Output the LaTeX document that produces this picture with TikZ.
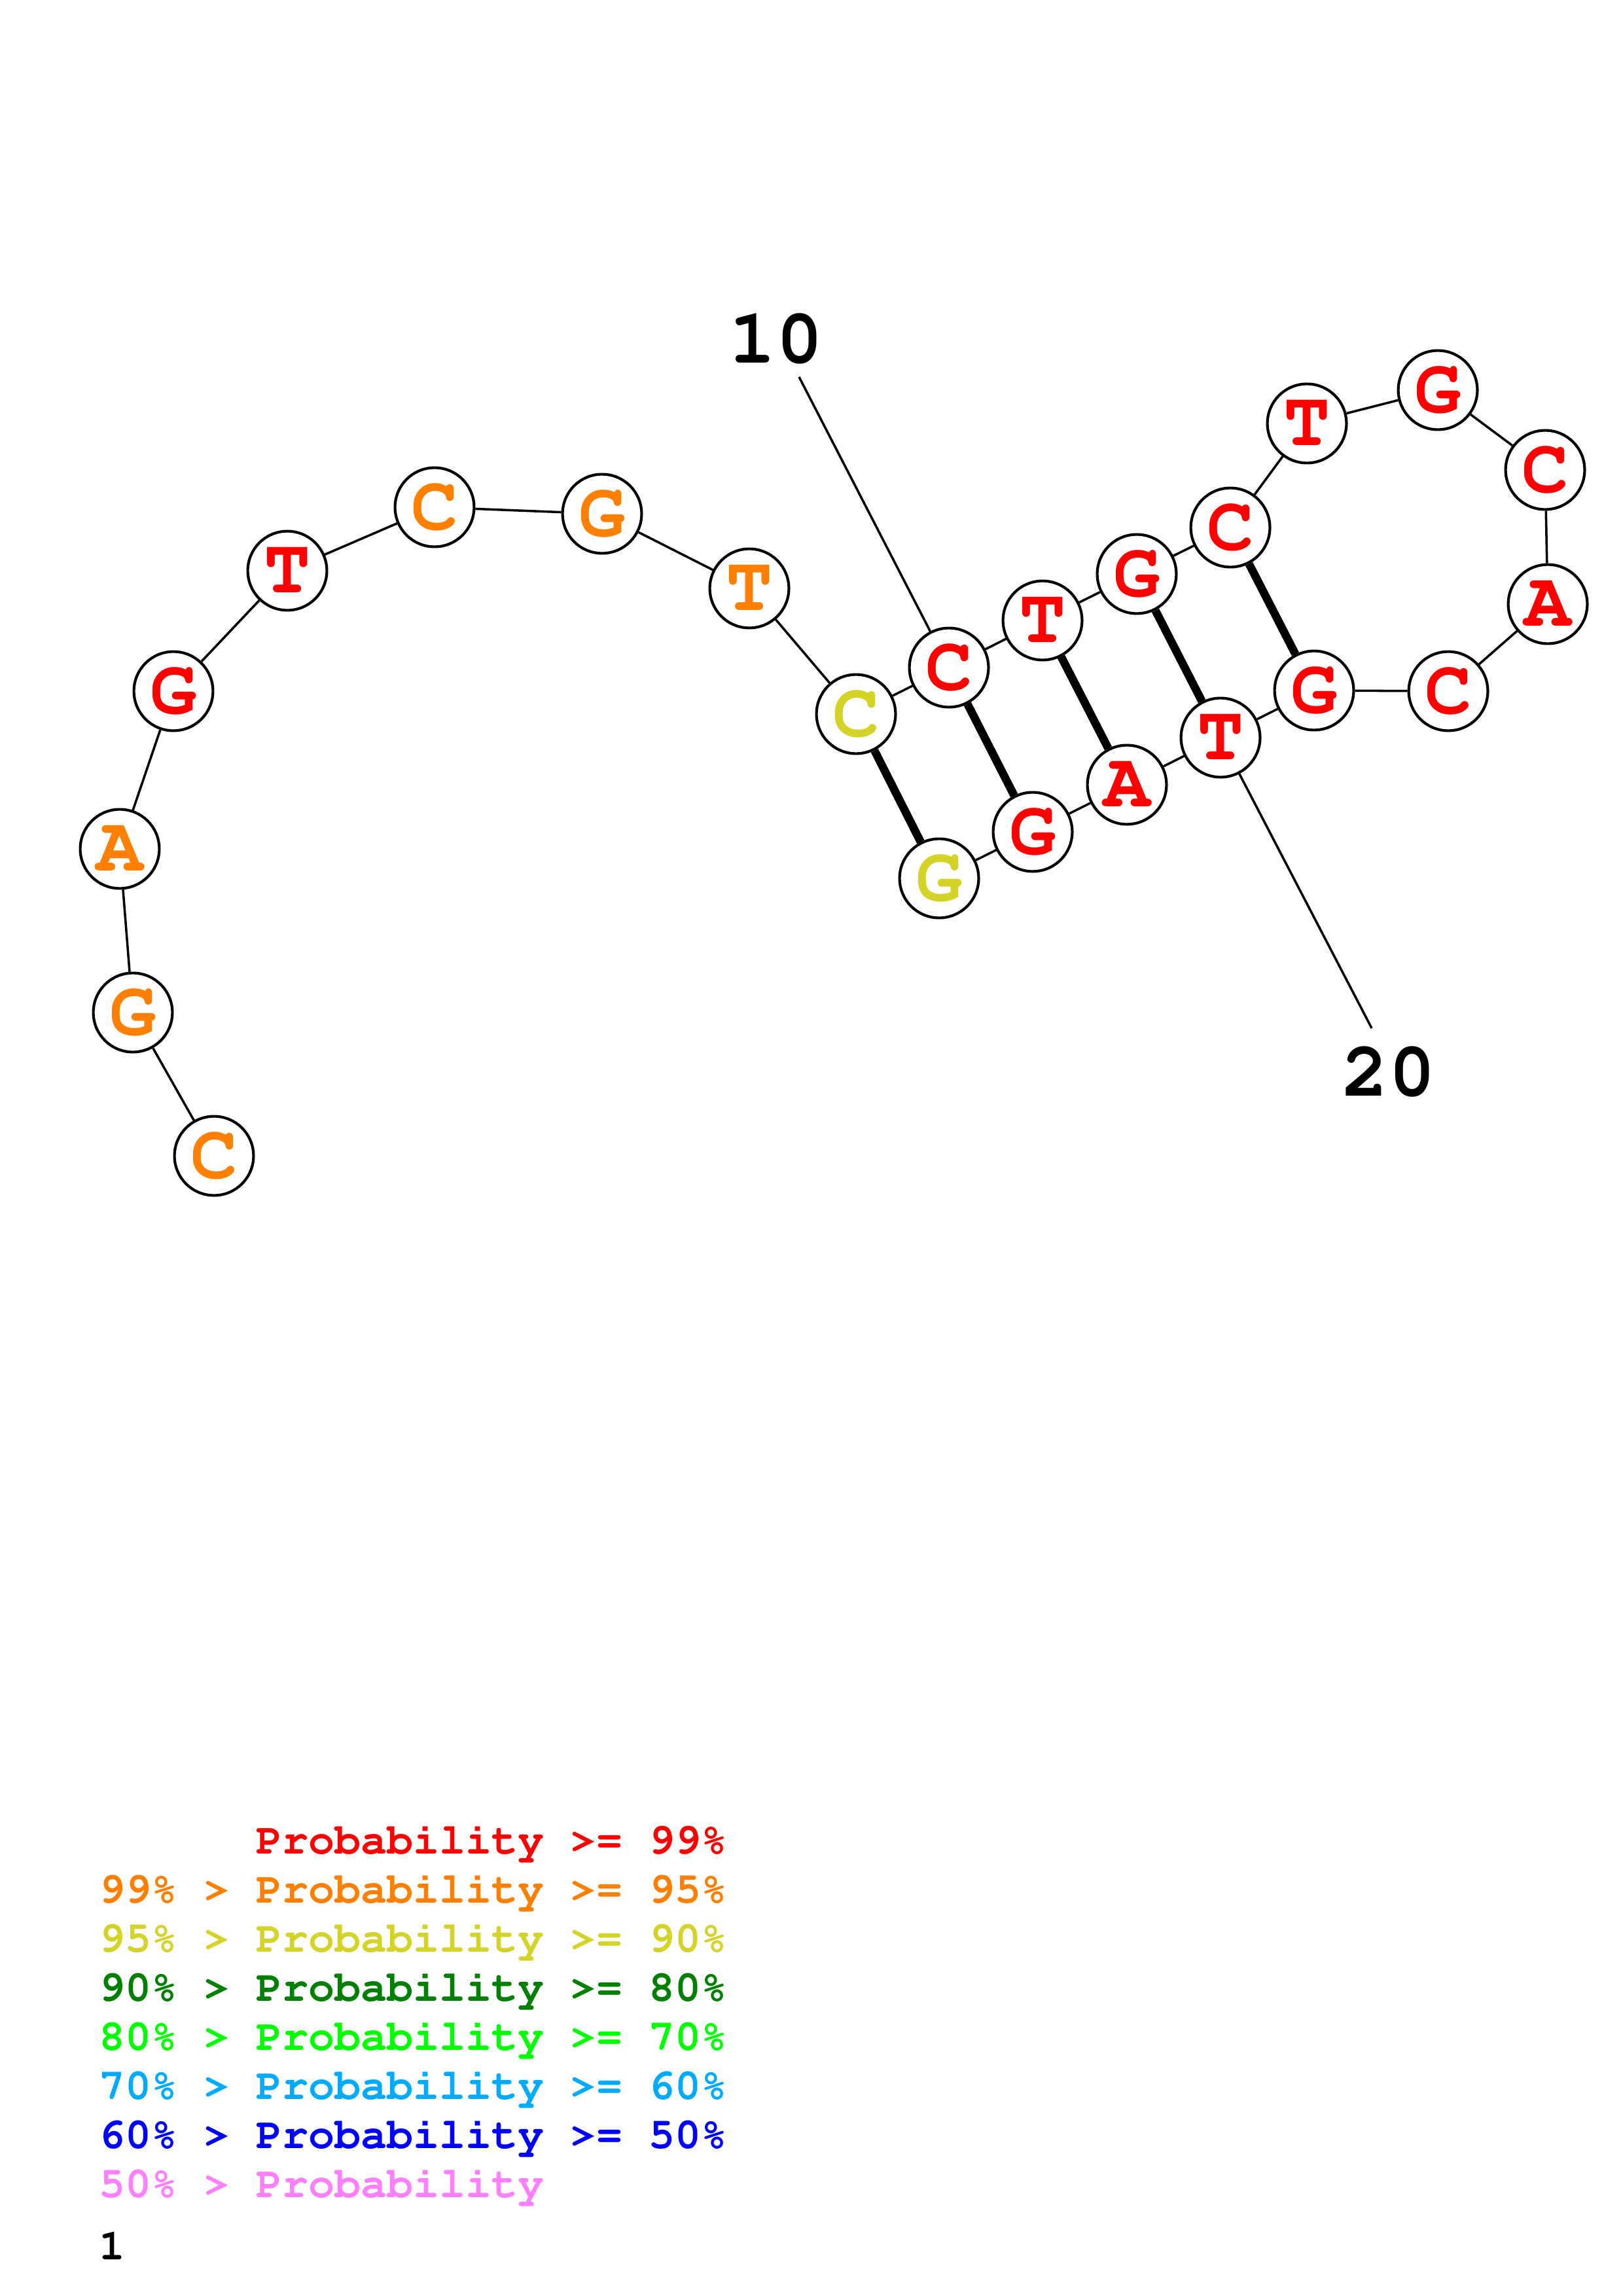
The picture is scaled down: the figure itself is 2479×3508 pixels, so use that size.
\documentclass[tikz,border=0pt]{standalone}
\usepackage[T1]{fontenc}
\newcommand\cour{\fontencoding{T1}\fontfamily{pcr}\bfseries}
\definecolor{cR}{RGB}{255,0,0}
\definecolor{cO}{RGB}{255,128,0}
\definecolor{cY}{RGB}{212,212,40}
\definecolor{cDG}{RGB}{0,128,0}
\definecolor{cG}{RGB}{0,255,0}
\definecolor{cLB}{RGB}{0,170,255}
\definecolor{cB}{RGB}{0,0,255}
\definecolor{cP}{RGB}{255,128,255}
\begin{document}
\begin{tikzpicture}[x=0.24pt,y=-0.24pt,
  nt/.style={circle,draw,line width=1pt,fill=white,minimum size=29pt,inner sep=0pt,font=\cour\fontsize{28.5}{28.5}\selectfont},
  bb/.style={line width=0.85pt},
  bp/.style={line width=3pt},
  lab/.style={font=\cour\fontsize{28.5}{28.5}\selectfont,inner sep=0pt},
  leg/.style={font=\cour\fontsize{16}{16}\selectfont,inner sep=0pt,anchor=base west}]
\useasboundingbox[fill=white] (0,0) rectangle (2479,3508);
% nucleotides
\node[nt,text=cO] (n1) at (327,1766) {C};
\node[nt,text=cO] (n2) at (203,1547) {G};
\node[nt,text=cO] (n3) at (183,1297) {A};
\node[nt,text=cR] (n4) at (265,1056) {G};
\node[nt,text=cR] (n5) at (439,872) {T};
\node[nt,text=cO] (n6) at (664,775) {C};
\node[nt,text=cO] (n7) at (920,785) {G};
\node[nt,text=cO] (n8) at (1145,899) {T};
\node[nt,text=cY] (n9) at (1308,1091) {C};
\node[nt,text=cR] (n10) at (1450,1020) {C};
\node[nt,text=cR] (n11) at (1593,948) {T};
\node[nt,text=cR] (n12) at (1737,877) {G};
\node[nt,text=cR] (n13) at (1880,806) {C};
\node[nt,text=cR] (n14) at (1997,647) {T};
\node[nt,text=cR] (n15) at (2197,596) {G};
\node[nt,text=cR] (n16) at (2361,718) {C};
\node[nt,text=cR] (n17) at (2365,923) {A};
\node[nt,text=cR] (n18) at (2213,1056) {C};
\node[nt,text=cR] (n19) at (2008,1055) {G};
\node[nt,text=cR] (n20) at (1865,1127) {T};
\node[nt,text=cR] (n21) at (1722,1199) {A};
\node[nt,text=cR] (n22) at (1578,1271) {G};
\node[nt,text=cY] (n23) at (1435,1342) {G};
% backbone
\foreach \a/\b in {1/2,2/3,3/4,4/5,5/6,6/7,7/8,8/9,9/10,10/11,11/12,12/13,13/14,14/15,15/16,16/17,17/18,18/19,19/20,20/21,21/22,22/23}
  \draw[bb] (n\a) -- (n\b);
% base pairs
\foreach \a/\b in {9/23,10/22,11/21,12/20,13/19}
  \draw[bp] (n\a) -- (n\b);
% number labels
\node[lab] (t10) at (1186,518) {10};
\node[lab] (t20) at (2122,1638) {20};
\coordinate (l10) at (1221,576);
\coordinate (l20) at (2096,1571);
\draw[bb] (l10) -- (n10);
\draw[bb] (l20) -- (n20);
% legend
\node[leg,text=cR] (g1) at (390.4,2832) {Probability >= 99\%};
\node[leg,text=cO] (g2) at (151,2907) {99\% > Probability >= 95\%};
\node[leg,text=cY] (g3) at (151,2982) {95\% > Probability >= 90\%};
\node[leg,text=cDG] (g4) at (151,3057) {90\% > Probability >= 80\%};
\node[leg,text=cG] (g5) at (151,3132) {80\% > Probability >= 70\%};
\node[leg,text=cLB] (g6) at (151,3207) {70\% > Probability >= 60\%};
\node[leg,text=cB] (g7) at (151,3282) {60\% > Probability >= 50\%};
\node[leg,text=cP] (g8) at (151,3357) {50\% > Probability};
\node[leg] (g9) at (151,3452) {1};
\end{tikzpicture}
\end{document}
